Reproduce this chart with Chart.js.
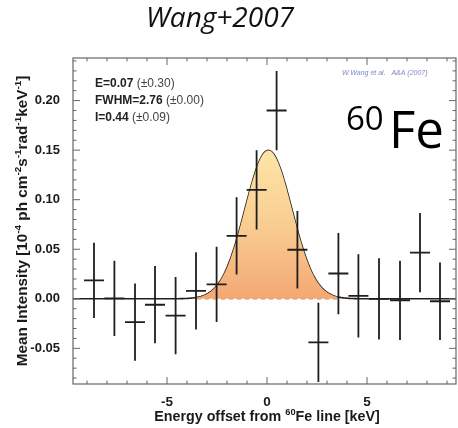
<!DOCTYPE html>
<html>
<head>
<meta charset="utf-8">
<script src="https://cdn.jsdelivr.net/npm/chart.js@4.4.0/dist/chart.umd.min.js"></script>
<style>
body{margin:0;background:#fff;}
#box{width:458px;height:428px;}
</style>
</head>
<body>
<div id="box"><canvas id="grafico"></canvas></div>
<script>
//spectrum bins (keV offset from the 60Fe line)
const energia = [-8.65, -7.63, -6.6, -5.6, -4.57, -3.55, -2.52, -1.52, -0.52, 0.48, 1.52, 2.57, 3.57, 4.57, 5.6, 6.65, 7.65, 8.65];
const intensita = [0.0185, 0.0005, -0.0235, -0.006, -0.017, 0.008, 0.0145, 0.0635, 0.110, 0.190, 0.0495, -0.044, 0.0255, 0.003, 0.0, -0.0015, 0.0465, -0.0025];
const errore = [0.038, 0.038, 0.039, 0.039, 0.039, 0.039, 0.038, 0.039, 0.040, 0.040, 0.039, 0.040, 0.041, 0.042, 0.041, 0.040, 0.040, 0.039];
const semiBin = 0.5;

//gaussian fit
const fitE = 0.07, fitEerr = 0.30;
const fitFWHM = 2.76, fitFWHMerr = 0.00;
const fitI = 0.44, fitIerr = 0.09;
const fitLimiti = [-3.5, 3.5];

//assi
const xMin = -9.7, xMax = 9.45;
const yMin = -0.086, yMax = 0.243;
const xTicks = [-5, 0, 5];
const yTicks = [-0.05, 0.00, 0.05, 0.10, 0.15, 0.20];

const titolo = 'Wang+2007';
const FONT = '"Liberation Sans", Arial, sans-serif';

function gauss(x){
	var picco = fitI / (fitFWHM * Math.sqrt(Math.PI / (4 * Math.LN2)));
	return picco * Math.exp(-4 * Math.LN2 * Math.pow(x - fitE, 2) / Math.pow(fitFWHM, 2));
}

function curva(a, b){
	var pts = [];
	for(let x = a; x <= b + 1e-9; x += 0.05){
		pts.push({x: x, y: gauss(x)});
	}
	return pts;
}

var punti = energia.map((e, i) => ({x: e, y: intensita[i], err: errore[i]}));

//text with superscripts
function testoRicco(ctx, parti, x, y, size, align){
	var w = 0;
	parti.forEach(p => {
		ctx.font = (p.b === false ? '' : 'bold ') + (p.s ? size * 0.65 : size) + 'px ' + FONT;
		p.w = ctx.measureText(p.t).width;
		w += p.w;
	});
	var cx = align == 'center' ? x - w / 2 : x;
	parti.forEach(p => {
		ctx.font = (p.b === false ? '' : 'bold ') + (p.s ? size * 0.65 : size) + 'px ' + FONT;
		ctx.fillText(p.t, cx, p.s ? y - size * 0.42 : y);
		cx += p.w;
	});
}

const decorazioni = {
	id: 'decorazioni',
	afterDatasetsDraw(chart){
		const ctx = chart.ctx;
		const a = chart.chartArea;
		const sx = chart.scales.x, sy = chart.scales.y;
		ctx.save();

		//error bars
		ctx.beginPath();
		ctx.rect(a.left, a.top, a.right - a.left, a.bottom - a.top);
		ctx.clip();
		ctx.strokeStyle = '#1e1e1e';
		ctx.lineWidth = 1.8;
		punti.forEach(p => {
			var px = sx.getPixelForValue(p.x);
			var py = sy.getPixelForValue(p.y);
			ctx.beginPath();
			ctx.moveTo(px, sy.getPixelForValue(p.y + p.err));
			ctx.lineTo(px, sy.getPixelForValue(p.y - p.err));
			ctx.moveTo(sx.getPixelForValue(p.x - semiBin), py);
			ctx.lineTo(sx.getPixelForValue(p.x + semiBin), py);
			ctx.stroke();
		});
		ctx.restore();

		//frame + inward ticks
		ctx.save();
		ctx.strokeStyle = '#666';
		ctx.lineWidth = 1.2;
		ctx.strokeRect(a.left, a.top, a.right - a.left, a.bottom - a.top);
		ctx.lineWidth = 1;
		ctx.beginPath();
		for(let v = -9; v <= 9; v++){
			var px = sx.getPixelForValue(v);
			var l = (v % 5 == 0) ? 7 : 3.5;
			ctx.moveTo(px, a.bottom); ctx.lineTo(px, a.bottom - l);
			ctx.moveTo(px, a.top); ctx.lineTo(px, a.top + l);
		}
		for(let k = -8; k <= 24; k++){
			var py = sy.getPixelForValue(k / 100);
			var l2 = (k % 5 == 0) ? 7 : 3.5;
			ctx.moveTo(a.left, py); ctx.lineTo(a.left + l2, py);
			ctx.moveTo(a.right, py); ctx.lineTo(a.right - l2, py);
		}
		ctx.stroke();
		ctx.restore();
	},
	afterDraw(chart){
		const ctx = chart.ctx;
		const a = chart.chartArea;
		ctx.save();
		ctx.textBaseline = 'alphabetic';

		//title
		ctx.fillStyle = '#111';
		ctx.font = 'italic 28px "Open Sans", sans-serif';
		ctx.textAlign = 'center';
		ctx.fillText(titolo, 220, 27);
		ctx.textAlign = 'left';

		//x title
		ctx.fillStyle = '#1a1a1a';
		testoRicco(ctx, [
			{t: 'Energy offset from '},
			{t: '60', s: true},
			{t: 'Fe line [keV]'}
		], 267, 421, 14.3, 'center');

		//y title
		ctx.save();
		ctx.translate(27, (a.top + a.bottom) / 2);
		ctx.rotate(-Math.PI / 2);
		testoRicco(ctx, [
			{t: 'Mean Intensity [10'}, {t: '-4', s: true},
			{t: ' ph cm'}, {t: '-2', s: true},
			{t: 's'}, {t: '-1', s: true},
			{t: 'rad'}, {t: '-1', s: true},
			{t: 'keV'}, {t: '-1', s: true},
			{t: ']'}
		], 0, 0, 15.3, 'center');
		ctx.restore();

		//fit results
		var righe = [
			['E=' + fitE.toFixed(2), '(\u00b1' + fitEerr.toFixed(2) + ')'],
			['FWHM=' + fitFWHM.toFixed(2), '(\u00b1' + fitFWHMerr.toFixed(2) + ')'],
			['I=' + fitI.toFixed(2), '(\u00b1' + fitIerr.toFixed(2) + ')']
		];
		righe.forEach((r, i) => {
			var y = 87 + i * 17;
			ctx.font = 'bold 12px ' + FONT;
			ctx.fillStyle = '#222';
			ctx.fillText(r[0], 95, y);
			var w = ctx.measureText(r[0] + ' ').width;
			ctx.font = '12px ' + FONT;
			ctx.fillStyle = '#444';
			ctx.fillText(r[1], 95 + w, y);
		});

		//credit
		ctx.font = 'italic 7px ' + FONT;
		ctx.fillStyle = '#7f88c8';
		ctx.fillText('W.Wang et al.   A&A (2007)', 342, 75);

		//isotope label
		ctx.fillStyle = '#000';
		ctx.font = '33px "Open Sans", sans-serif';
		ctx.fillText('60', 346, 130);
		ctx.font = '51px "Open Sans", sans-serif';
		ctx.fillText('Fe', 389, 148);
		ctx.restore();
	}
};

var ctx = document.getElementById('grafico').getContext('2d');

var grafico = new Chart(ctx, {
	type: 'scatter',
	data: {
		datasets: [
			{
				//shaded line profile
				type: 'line',
				data: curva(fitLimiti[0], fitLimiti[1]),
				borderWidth: 0,
				pointRadius: 0,
				fill: 'origin',
				backgroundColor: function(context){
					const ch = context.chart;
					if(!ch.chartArea) return '#f8c98a';
					const sy = ch.scales.y;
					const g = ch.ctx.createLinearGradient(0, sy.getPixelForValue(gauss(fitE)), 0, sy.getPixelForValue(0));
					g.addColorStop(0, '#fde5a6');
					g.addColorStop(0.5, '#f9cd92');
					g.addColorStop(1, '#f4a874');
					return g;
				}
			},
			{
				//baseline under the line
				type: 'line',
				data: [{x: fitLimiti[0], y: 0}, {x: fitLimiti[1], y: 0}],
				borderColor: '#d9905c',
				borderWidth: 1.5,
				borderDash: [4, 4],
				pointRadius: 0,
				fill: false
			},
			{
				//fitted model
				type: 'line',
				data: curva(xMin, xMax),
				borderColor: '#2a1e14',
				borderWidth: 1.6,
				pointRadius: 0,
				fill: false
			}
		]
	},
	options: {
		responsive: true,
		maintainAspectRatio: false,
		animation: false,
		layout: {padding: {left: 0, right: 2, top: 58, bottom: 0}},
		plugins: {
			legend: {display: false},
			tooltip: {enabled: false},
			title: {display: false}
		},
		scales: {
			x: {
				type: 'linear',
				min: xMin,
				max: xMax,
				grid: {display: false},
				border: {display: false},
				afterBuildTicks: s => { s.ticks = xTicks.map(v => ({value: v})); },
				afterFit: s => { s.height = 44; },
				ticks: {
					color: '#1a1a1a',
					padding: 2,
					maxRotation: 0,
					font: {family: FONT, size: 13.5, weight: 'bold'},
					callback: v => String(v)
				}
			},
			y: {
				min: yMin,
				max: yMax,
				grid: {display: false},
				border: {display: false},
				afterBuildTicks: s => { s.ticks = yTicks.map(v => ({value: v})); },
				afterFit: s => { s.width = 73; },
				ticks: {
					color: '#1a1a1a',
					padding: 5,
					font: {family: FONT, size: 13, weight: 'bold'},
					callback: v => v.toFixed(2)
				}
			}
		}
	},
	plugins: [decorazioni]
});
</script>
</body>
</html>
